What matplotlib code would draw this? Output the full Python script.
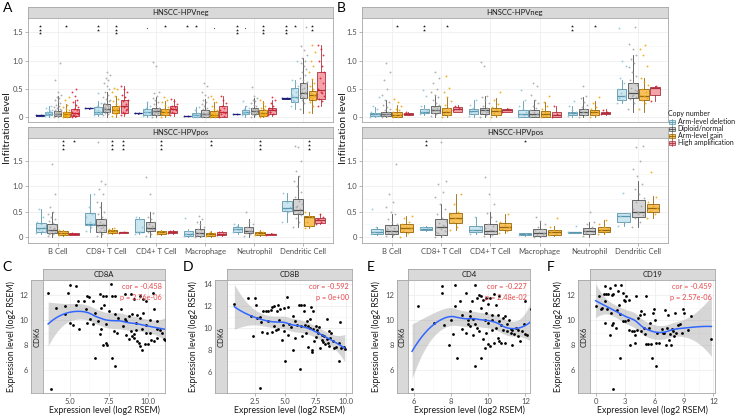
import numpy as np
import matplotlib
matplotlib.use("Agg")
import matplotlib.pyplot as plt
from matplotlib.patches import Rectangle
from matplotlib.lines import Line2D

plt.rcParams['font.family'] = ['Lato', 'DejaVu Sans']

# ---------------- data: copy-number boxplots ----------------
cells = ["B Cell", "CD8+ T Cell", "CD4+ T Cell", "Macrophage", "Neutrophil", "Dendritic Cell"]

# (lower whisker, q1, median, q3, upper whisker) for each cell type
a_neg_box = {
    "Deep deletion": [(0.02, 0.025, 0.03, 0.035, 0.04), (0.15, 0.155, 0.16, 0.165, 0.17), (0.06, 0.065, 0.07, 0.075, 0.08),
                      (0.015, 0.018, 0.02, 0.022, 0.025), (0.05, 0.052, 0.055, 0.058, 0.06), (0.32, 0.325, 0.33, 0.335, 0.34)],
    "Arm-level deletion": [(0.0, 0.03, 0.06, 0.10, 0.2), (0.02, 0.06, 0.10, 0.18, 0.28), (0.0, 0.045, 0.09, 0.14, 0.26),
                           (0.0, 0.005, 0.04, 0.08, 0.18), (0.01, 0.05, 0.09, 0.13, 0.2), (0.14, 0.26, 0.36, 0.51, 0.65)],
    "Diploid/normal": [(0.0, 0.02, 0.06, 0.11, 0.38), (0.0, 0.09, 0.14, 0.23, 0.44), (0.0, 0.045, 0.11, 0.17, 0.36),
                       (0.0, 0.01, 0.05, 0.13, 0.32), (0.0, 0.05, 0.11, 0.17, 0.34), (0.08, 0.33, 0.42, 0.61, 1.05)],
    "Arm-level gain": [(0.0, 0.01, 0.05, 0.10, 0.24), (0.0, 0.08, 0.13, 0.2, 0.38), (0.0, 0.04, 0.09, 0.14, 0.28),
                       (0.0, 0.005, 0.04, 0.11, 0.26), (0.0, 0.02, 0.07, 0.13, 0.28), (0.08, 0.3, 0.39, 0.46, 0.68)],
    "High amplification": [(0.0, 0.02, 0.07, 0.14, 0.3), (0.02, 0.08, 0.19, 0.3, 0.55), (0.02, 0.07, 0.14, 0.2, 0.32),
                           (0.0, 0.01, 0.1, 0.2, 0.38), (0.02, 0.05, 0.12, 0.16, 0.3), (0.2, 0.32, 0.48, 0.8, 1.27)],
}
a_neg_pts = {
    "Deep deletion": [[0.03, 0.035], [0.16, 0.165], [0.07, 0.075], [0.02, 0.022], [0.055, 0.06], [0.33, 0.34]],
    "Arm-level deletion": [
        [0.02, 0.04, 0.05, 0.06, 0.07, 0.08, 0.09, 0.1, 0.12, 0.14, 0.17, 0.2, 0.03, 0.05, 0.11],
        [0.04, 0.06, 0.08, 0.1, 0.12, 0.15, 0.18, 0.2, 0.25, 0.42, 0.09, 0.07],
        [0.02, 0.04, 0.06, 0.08, 0.1, 0.12, 0.14, 0.16, 0.2, 0.26, 0.09],
        [0.0, 0.02, 0.03, 0.04, 0.05, 0.06, 0.08, 0.12, 0.18, 0.01],
        [0.03, 0.05, 0.07, 0.08, 0.09, 0.1, 0.12, 0.14, 0.17, 0.2, 0.28],
        [0.2, 0.26, 0.3, 0.33, 0.36, 0.4, 0.45, 0.5, 0.55, 0.6, 0.65, 1.0, 0.28, 0.38]],
    "Diploid/normal": [
        [0.01, 0.02, 0.03, 0.04, 0.05, 0.06, 0.07, 0.08, 0.09, 0.1, 0.12, 0.14, 0.16, 0.18, 0.2, 0.22, 0.25, 0.28,
         0.3, 0.33, 0.36, 0.4, 0.45, 0.65, 0.95, 0.03, 0.05, 0.07, 0.11, 0.13],
        [0.03, 0.06, 0.08, 0.1, 0.12, 0.14, 0.16, 0.18, 0.2, 0.22, 0.25, 0.28, 0.32, 0.36, 0.4, 0.45, 0.5, 0.55,
         0.6, 0.65, 0.7, 0.75, 0.8, 0.11, 0.13, 0.15, 0.17, 0.19, 0.24, 0.3],
        [0.01, 0.03, 0.05, 0.07, 0.09, 0.11, 0.13, 0.15, 0.17, 0.2, 0.23, 0.26, 0.3, 0.34, 0.38, 0.42, 0.45, 0.9,
         0.98, 0.08, 0.1, 0.12, 0.14, 0.06],
        [0.0, 0.01, 0.02, 0.03, 0.04, 0.05, 0.06, 0.08, 0.1, 0.12, 0.14, 0.17, 0.2, 0.23, 0.27, 0.3, 0.35, 0.4,
         0.45, 0.55, 0.6, 0.03, 0.05, 0.07],
        [0.01, 0.03, 0.05, 0.07, 0.09, 0.1, 0.11, 0.12, 0.13, 0.15, 0.17, 0.19, 0.22, 0.25, 0.28, 0.31, 0.34,
         0.38, 0.53, 0.08, 0.06, 0.14],
        [0.15, 0.25, 0.3, 0.33, 0.36, 0.39, 0.42, 0.45, 0.48, 0.52, 0.56, 0.6, 0.65, 0.7, 0.75, 0.8, 0.85, 0.9,
         0.95, 1.0, 1.05, 1.1, 1.18, 1.25, 1.6, 0.35, 0.4, 0.44, 0.5, 0.62]],
    "Arm-level gain": [
        [0.0, 0.01, 0.02, 0.03, 0.04, 0.05, 0.06, 0.07, 0.08, 0.09, 0.1, 0.12, 0.15, 0.18, 0.22, 0.3, 0.35, 0.02, 0.04, 0.06],
        [0.02, 0.05, 0.08, 0.1, 0.12, 0.14, 0.16, 0.18, 0.2, 0.24, 0.28, 0.32, 0.38, 0.45, 0.5, 0.52, 0.11, 0.13],
        [0.01, 0.03, 0.05, 0.07, 0.09, 0.11, 0.13, 0.15, 0.18, 0.22, 0.26, 0.3, 0.35, 0.08, 0.1],
        [0.0, 0.01, 0.02, 0.03, 0.04, 0.05, 0.07, 0.09, 0.12, 0.15, 0.2, 0.26, 0.32, 0.38, 0.02, 0.06],
        [0.0, 0.02, 0.03, 0.05, 0.06, 0.07, 0.08, 0.1, 0.12, 0.14, 0.17, 0.2, 0.25, 0.3, 0.04],
        [0.1, 0.2, 0.26, 0.3, 0.33, 0.36, 0.39, 0.42, 0.45, 0.5, 0.55, 0.6, 0.68, 0.8, 0.9, 1.0, 1.15, 1.27, 0.35, 0.38]],
    "High amplification": [
        [0.0, 0.02, 0.03, 0.05, 0.07, 0.1, 0.12, 0.15, 0.18, 0.22, 0.27, 0.3, 0.38, 0.45, 0.5, 0.04, 0.08],
        [0.04, 0.08, 0.1, 0.14, 0.18, 0.2, 0.24, 0.28, 0.3, 0.35, 0.4, 0.45, 0.5, 0.55, 0.12],
        [0.04, 0.07, 0.1, 0.12, 0.14, 0.16, 0.18, 0.2, 0.24, 0.28, 0.32],
        [0.0, 0.02, 0.05, 0.08, 0.1, 0.13, 0.16, 0.2, 0.25, 0.3, 0.38],
        [0.03, 0.06, 0.09, 0.12, 0.14, 0.16, 0.2, 0.25, 0.3, 0.35, 0.1],
        [0.2, 0.28, 0.32, 0.38, 0.45, 0.5, 0.6, 0.7, 0.8, 0.9, 1.0, 1.1, 1.2, 1.27, 0.42]],
}
a_neg_sig = {
    "Deep deletion": ["***", "", "", "*", "***", "***"],
    "Arm-level deletion": ["", "**", ".", "*", ".", "*"],
    "Diploid/normal": ["", "", "", "", "", ""],
    "Arm-level gain": ["*", "***", "*", ".", "***", "**"],
    "High amplification": ["", "", "", "", "", ""],
}

a_pos_box = {
    "Arm-level deletion": [(0.06, 0.09, 0.17, 0.28, 0.55), (0.1, 0.23, 0.26, 0.48, 0.85), (0.05, 0.09, 0.1, 0.36, 0.4),
                           (0.0, 0.02, 0.05, 0.11, 0.15), (0.06, 0.1, 0.15, 0.2, 0.25), (0.3, 0.51, 0.57, 0.72, 0.88)],
    "Diploid/normal": [(0.0, 0.07, 0.13, 0.25, 0.5), (0.0, 0.1, 0.23, 0.36, 0.7), (0.0, 0.12, 0.17, 0.29, 0.5),
                       (0.0, 0.02, 0.08, 0.15, 0.32), (0.0, 0.07, 0.12, 0.2, 0.35), (0.2, 0.45, 0.53, 0.75, 1.2)],
    "Arm-level gain": [(0.02, 0.03, 0.07, 0.11, 0.14), (0.06, 0.08, 0.12, 0.14, 0.18), (0.03, 0.06, 0.09, 0.11, 0.14),
                       (0.0, 0.01, 0.05, 0.08, 0.12), (0.01, 0.04, 0.07, 0.1, 0.13), (0.18, 0.22, 0.4, 0.42, 0.5)],
    "High amplification": [(0.04, 0.045, 0.06, 0.07, 0.08), (0.08, 0.085, 0.09, 0.09, 0.095), (0.06, 0.08, 0.1, 0.12, 0.13),
                           (0.01, 0.03, 0.06, 0.1, 0.12), (0.03, 0.04, 0.05, 0.06, 0.07), (0.25, 0.28, 0.33, 0.38, 0.45)],
}
a_pos_pts = {
    "Arm-level deletion": [
        [0.08, 0.12, 0.16, 0.2, 0.25, 0.3, 0.4, 0.55, 0.1],
        [0.12, 0.2, 0.24, 0.26, 0.3, 0.4, 0.45, 0.6, 0.85],
        [0.06, 0.09, 0.1, 0.2, 0.35, 0.4],
        [0.01, 0.03, 0.05, 0.08, 0.12, 0.38],
        [0.1, 0.13, 0.15, 0.18, 0.22, 0.25],
        [0.3, 0.5, 0.55, 0.6, 0.7, 0.88]],
    "Diploid/normal": [
        [0.02, 0.05, 0.08, 0.1, 0.12, 0.14, 0.17, 0.2, 0.24, 0.28, 0.32, 0.36, 0.4, 0.45, 0.5, 0.6, 0.85, 1.45, 0.06, 0.15],
        [0.02, 0.06, 0.1, 0.14, 0.18, 0.22, 0.26, 0.3, 0.35, 0.4, 0.45, 0.5, 0.6, 0.7, 0.85, 0.95, 1.05, 1.1, 1.88, 0.2, 0.12],
        [0.02, 0.06, 0.1, 0.13, 0.16, 0.19, 0.22, 0.26, 0.3, 0.35, 0.4, 0.48, 0.85, 1.18, 0.15],
        [0.0, 0.02, 0.04, 0.06, 0.08, 0.1, 0.13, 0.16, 0.2, 0.25, 0.3, 0.36, 0.42, 0.05],
        [0.02, 0.05, 0.08, 0.1, 0.12, 0.14, 0.17, 0.2, 0.25, 0.3, 0.5, 0.11],
        [0.2, 0.3, 0.38, 0.44, 0.48, 0.52, 0.56, 0.6, 0.66, 0.72, 0.8, 0.9, 1.0, 1.1, 1.2, 1.3, 1.5, 1.78, 1.8, 0.5, 0.62]],
    "Arm-level gain": [
        [0.03, 0.05, 0.07, 0.09, 0.11, 0.14, 0.06],
        [0.07, 0.09, 0.11, 0.12, 0.13, 0.15, 0.18],
        [0.05, 0.07, 0.09, 0.1, 0.12],
        [0.01, 0.03, 0.05, 0.07, 0.1],
        [0.03, 0.05, 0.07, 0.09, 0.11],
        [0.18, 0.22, 0.3, 0.4, 0.42, 0.5]],
    "High amplification": [
        [0.05, 0.06, 0.07], [0.085, 0.09], [0.07, 0.1, 0.12], [0.03, 0.06, 0.1], [0.04, 0.05], [0.25, 0.3, 0.35, 0.4, 0.45]],
}
a_pos_sig = {
    "Arm-level deletion": ["", "", "", "", "", ""],
    "Diploid/normal": ["", "", "", "", "", ""],
    "Arm-level gain": ["***", "***", "***", "**", "***", "***"],
    "High amplification": ["*", "***", "", "", "", ""],
}

b_neg_box = {
    "Arm-level deletion": [(0.0, 0.02, 0.05, 0.08, 0.18), (0.04, 0.07, 0.1, 0.14, 0.22), (0.0, 0.05, 0.11, 0.15, 0.3),
                           (0.0, 0.0, 0.05, 0.12, 0.28), (0.0, 0.04, 0.07, 0.1, 0.2), (0.25, 0.3, 0.37, 0.5, 0.65)],
    "Diploid/normal": [(0.0, 0.02, 0.06, 0.1, 0.3), (0.0, 0.07, 0.13, 0.2, 0.4), (0.0, 0.05, 0.12, 0.16, 0.38),
                       (0.0, 0.01, 0.05, 0.12, 0.3), (0.0, 0.04, 0.09, 0.15, 0.35), (0.1, 0.33, 0.42, 0.6, 1.1)],
    "Arm-level gain": [(0.0, 0.0, 0.04, 0.09, 0.22), (0.0, 0.03, 0.1, 0.16, 0.35), (0.0, 0.04, 0.11, 0.16, 0.34),
                       (0.0, 0.0, 0.05, 0.11, 0.26), (0.0, 0.04, 0.09, 0.13, 0.28), (0.1, 0.3, 0.37, 0.5, 0.7)],
    "High amplification": [(0.04, 0.045, 0.06, 0.075, 0.09), (0.1, 0.1, 0.14, 0.18, 0.22), (0.09, 0.1, 0.12, 0.14, 0.16),
                           (0.0, 0.0, 0.03, 0.1, 0.2), (0.04, 0.05, 0.08, 0.1, 0.14), (0.28, 0.4, 0.52, 0.54, 0.55)],
}
b_neg_pts = {
    "Arm-level deletion": [
        [0.0, 0.02, 0.04, 0.06, 0.08, 0.1, 0.14, 0.2, 0.35],
        [0.05, 0.08, 0.1, 0.12, 0.15, 0.2, 0.38, 0.48],
        [0.02, 0.06, 0.1, 0.13, 0.16, 0.22, 0.3],
        [0.0, 0.03, 0.06, 0.1, 0.15, 0.2, 0.3, 0.48],
        [0.02, 0.05, 0.07, 0.09, 0.12, 0.2, 0.28],
        [0.25, 0.3, 0.33, 0.37, 0.42, 0.5, 0.6, 0.7, 0.9, 1.0, 1.57]],
    "Diploid/normal": [
        [0.0, 0.02, 0.03, 0.05, 0.06, 0.08, 0.1, 0.12, 0.15, 0.18, 0.22, 0.26, 0.3, 0.4, 0.5, 0.65, 0.8, 0.95, 0.04, 0.07],
        [0.02, 0.05, 0.08, 0.1, 0.12, 0.14, 0.16, 0.18, 0.21, 0.25, 0.3, 0.35, 0.4, 0.45, 0.5, 0.6, 0.7, 0.8, 0.11, 0.13],
        [0.01, 0.04, 0.07, 0.1, 0.12, 0.14, 0.17, 0.2, 0.25, 0.3, 0.35, 0.38, 0.9, 0.98, 0.09],
        [0.0, 0.02, 0.04, 0.06, 0.09, 0.12, 0.16, 0.2, 0.25, 0.3, 0.4, 0.55, 0.6],
        [0.0, 0.03, 0.06, 0.08, 0.1, 0.12, 0.15, 0.18, 0.22, 0.27, 0.33, 0.38, 0.55],
        [0.15, 0.25, 0.32, 0.36, 0.4, 0.44, 0.48, 0.52, 0.56, 0.6, 0.66, 0.72, 0.8, 0.88, 0.95, 1.02, 1.1, 1.2, 1.3, 1.6, 0.38, 0.46]],
    "Arm-level gain": [
        [0.0, 0.01, 0.03, 0.05, 0.07, 0.09, 0.12, 0.15, 0.2, 0.26, 0.32, 0.04],
        [0.0, 0.03, 0.06, 0.09, 0.11, 0.14, 0.17, 0.22, 0.28, 0.35, 0.45, 0.52, 0.72],
        [0.01, 0.04, 0.08, 0.11, 0.14, 0.18, 0.24, 0.3, 0.45],
        [0.0, 0.02, 0.04, 0.07, 0.1, 0.14, 0.2, 0.26, 0.38],
        [0.01, 0.04, 0.07, 0.09, 0.11, 0.14, 0.18, 0.25, 0.35],
        [0.15, 0.25, 0.3, 0.34, 0.37, 0.4, 0.45, 0.5, 0.56, 0.62, 0.7, 0.9, 1.1, 1.2, 1.27]],
    "High amplification": [
        [0.05, 0.06, 0.09], [0.12, 0.16, 0.2], [0.1, 0.14], [0.0, 0.05, 0.2], [0.05, 0.09, 0.13], [0.28, 0.55]],
}
b_neg_sig = {
    "Arm-level deletion": ["", "**", "", "", "**", ""],
    "Diploid/normal": ["", "", "", "", "", ""],
    "Arm-level gain": ["*", "*", "", "", "*", ""],
    "High amplification": ["", "", "", "", "", ""],
}

b_pos_box = {
    "Arm-level deletion": [(0.04, 0.06, 0.09, 0.16, 0.2), (0.12, 0.14, 0.16, 0.19, 0.22), (0.05, 0.09, 0.13, 0.22, 0.4),
                           (0.02, 0.03, 0.05, 0.07, 0.08), (0.08, 0.085, 0.09, 0.09, 0.1), (0.22, 0.3, 0.42, 0.47, 0.48)],
    "Diploid/normal": [(0.0, 0.06, 0.11, 0.23, 0.45), (0.0, 0.03, 0.2, 0.35, 0.65), (0.0, 0.06, 0.12, 0.26, 0.5),
                       (0.0, 0.01, 0.07, 0.15, 0.32), (0.0, 0.06, 0.12, 0.18, 0.3), (0.2, 0.4, 0.49, 0.74, 1.1)],
    "Arm-level gain": [(0.02, 0.1, 0.17, 0.26, 0.42), (0.13, 0.28, 0.37, 0.47, 0.85), (0.08, 0.13, 0.2, 0.27, 0.45),
                       (0.02, 0.04, 0.1, 0.13, 0.22), (0.05, 0.1, 0.14, 0.2, 0.34), (0.38, 0.5, 0.57, 0.66, 0.82)],
}
b_pos_pts = {
    "Arm-level deletion": [
        [0.06, 0.08, 0.1, 0.14, 0.2, 0.55], [0.15, 0.17, 0.2], [0.06, 0.1, 0.14, 0.2, 0.4],
        [0.04, 0.06], [0.09, 0.22], [0.22, 0.3, 0.42, 0.47, 0.88]],
    "Diploid/normal": [
        [0.01, 0.04, 0.07, 0.1, 0.12, 0.15, 0.18, 0.22, 0.26, 0.3, 0.35, 0.45, 0.5, 0.6, 0.7, 0.85, 1.45, 0.08],
        [0.0, 0.03, 0.08, 0.12, 0.16, 0.2, 0.24, 0.28, 0.32, 0.38, 0.45, 0.55, 0.65, 0.8, 0.9, 1.05, 1.1, 1.88, 0.1, 0.22],
        [0.01, 0.04, 0.08, 0.11, 0.14, 0.18, 0.22, 0.26, 0.32, 0.4, 0.48, 0.65, 0.85, 1.18, 0.13],
        [0.0, 0.02, 0.04, 0.07, 0.1, 0.13, 0.16, 0.2, 0.25, 0.32, 0.4, 0.06],
        [0.02, 0.05, 0.08, 0.1, 0.13, 0.16, 0.2, 0.26, 0.3, 0.5, 0.12],
        [0.2, 0.3, 0.38, 0.44, 0.5, 0.56, 0.62, 0.7, 0.78, 0.86, 0.95, 1.05, 1.2, 1.35, 1.5, 1.78, 1.8, 0.45]],
    "Arm-level gain": [
        [0.0, 0.08, 0.12, 0.17, 0.2, 0.25, 0.3, 0.38, 0.42],
        [0.13, 0.2, 0.3, 0.35, 0.38, 0.45, 0.5, 0.65, 0.85],
        [0.08, 0.12, 0.16, 0.2, 0.24, 0.3, 0.45],
        [0.03, 0.06, 0.09, 0.11, 0.14, 0.2, 0.38],
        [0.06, 0.1, 0.13, 0.16, 0.2, 0.26, 0.34],
        [0.38, 0.45, 0.52, 0.57, 0.62, 0.7, 0.8, 1.28]],
}
b_pos_sig = {
    "Arm-level deletion": ["", "**", "", "*", "", ""],
    "Diploid/normal": ["", "", "", "", "", ""],
    "Arm-level gain": ["", "", "", "", "", ""],
}

# ---------------- data: CDK6 vs marker genes ----------------
c_pts = [(3.6, 12.2), (5.0, 12.8), (5.4, 12.75), (7.6, 12.85), (6.9, 12.1), (7.1, 11.9), (7.3, 11.9), (7.7, 11.9),
         (7.9, 11.9), (6.1, 11.9), (6.2, 11.85), (8.5, 12.1), (8.9, 12.1), (9.1, 11.65), (9.5, 11.95), (9.7, 11.7),
         (9.9, 11.5), (10.3, 12.15), (5.9, 11.55), (5.5, 11.5), (6.5, 11.5), (7.2, 11.2), (4.9, 12.2), (4.1, 10.95),
         (4.7, 11.1), (5.4, 11.2), (6.0, 10.9), (6.6, 10.6), (7.0, 11.0), (7.5, 10.7), (7.9, 10.5), (8.3, 10.9),
         (8.5, 10.1), (8.8, 10.3), (9.0, 10.5), (9.3, 10.4), (9.5, 10.2), (9.7, 10.6), (10.1, 10.0), (10.4, 10.85),
         (11.4, 10.5), (4.7, 10.5), (6.8, 9.9), (7.3, 9.7), (8.1, 10.2), (8.6, 9.9), (9.2, 9.8), (9.9, 9.6),
         (10.6, 9.9), (11.6, 9.1), (5.0, 9.8), (5.2, 9.6), (5.6, 9.3), (6.1, 9.8), (6.5, 9.7), (7.0, 9.3),
         (6.9, 8.9), (7.3, 8.2), (7.4, 8.0), (7.1, 8.0), (7.8, 9.1), (8.0, 9.0), (8.6, 8.8), (8.9, 9.1), (9.1, 8.9),
         (9.1, 8.6), (9.3, 8.3), (9.4, 8.2), (9.6, 7.6), (9.5, 7.9), (9.8, 8.1), (10.0, 8.1), (10.2, 8.4),
         (10.4, 8.3), (10.6, 8.6), (10.8, 9.2), (11.0, 8.5), (11.1, 8.4), (11.3, 9.0), (10.6, 9.3), (9.9, 9.0),
         (9.0, 8.7), (8.8, 8.5), (6.6, 7.0), (7.7, 7.0), (7.9, 6.3), (3.8, 4.5), (9.2, 9.2), (9.6, 9.3),
         (10.1, 9.0), (10.9, 9.0), (8.4, 9.5), (6.3, 10.1)]
d_pts = [(0.8, 12.2), (1.9, 12.7), (2.5, 12.75), (2.6, 12.1), (2.2, 11.1), (2.7, 10.9), (2.9, 11.0), (3.2, 11.5),
         (3.4, 11.5), (3.6, 11.5), (3.8, 11.6), (3.9, 11.9), (4.1, 12.0), (4.4, 12.1), (4.6, 11.7), (4.3, 11.5),
         (4.9, 11.85), (5.2, 11.9), (5.1, 12.8), (5.6, 11.1), (6.1, 12.1), (6.3, 12.1), (6.5, 12.1), (6.5, 11.5),
         (7.1, 11.9), (7.3, 11.5), (7.5, 10.2), (7.8, 10.1), (8.4, 10.8), (8.6, 9.7), (9.5, 10.5), (3.0, 10.5),
         (3.6, 10.6), (4.5, 10.7), (4.8, 10.3), (5.3, 10.4), (5.8, 10.6), (6.0, 10.3), (6.3, 10.2), (6.6, 10.3),
         (6.9, 10.2), (7.0, 10.0), (7.3, 9.9), (7.7, 9.5), (7.6, 9.8), (8.0, 9.4), (8.2, 9.3), (8.4, 9.0),
         (8.7, 9.1), (8.9, 8.8), (9.2, 8.3), (9.4, 8.6), (9.6, 8.2), (9.9, 8.1), (8.1, 8.7), (8.3, 8.5), (8.6, 8.4),
         (8.0, 8.9), (7.4, 8.8), (7.2, 8.0), (7.2, 7.8), (6.9, 8.3), (6.4, 9.3), (5.8, 9.1), (5.2, 9.4), (4.9, 9.7),
         (4.4, 9.9), (4.2, 9.8), (3.9, 9.6), (3.1, 9.6), (2.3, 9.3), (4.7, 8.9), (5.6, 8.0), (5.0, 7.0), (6.2, 6.3),
         (2.9, 4.5), (9.4, 7.0), (7.9, 8.2), (8.5, 8.6), (9.0, 8.2), (6.7, 9.5), (7.5, 9.2), (3.5, 9.5), (4.1, 10.2),
         (5.5, 10.1), (6.8, 10.6), (8.8, 9.5), (9.8, 8.3), (7.0, 10.8)]
e_pts = [(5.9, 4.5), (6.2, 11.1), (7.1, 9.8), (7.5, 12.7), (7.5, 12.15), (7.6, 9.6), (7.9, 8.0), (8.0, 10.0),
         (8.1, 8.9), (8.2, 11.1), (8.2, 12.8), (8.3, 7.0), (8.5, 11.5), (8.6, 9.3), (8.6, 10.4), (8.8, 12.2),
         (8.9, 9.7), (9.0, 10.7), (9.0, 10.3), (9.1, 11.5), (9.2, 8.8), (9.3, 9.7), (9.3, 12.8), (9.3, 6.3),
         (9.4, 11.8), (9.5, 12.0), (9.5, 9.1), (9.6, 11.9), (9.6, 11.0), (9.6, 7.0), (9.7, 11.6), (9.7, 8.5),
         (9.8, 7.8), (9.8, 10.0), (9.9, 11.8), (9.9, 9.0), (10.0, 11.3), (10.0, 8.1), (10.1, 11.8), (10.2, 10.4),
         (10.2, 10.0), (10.3, 12.1), (10.3, 8.2), (10.4, 11.2), (10.4, 9.4), (10.5, 10.4), (10.5, 8.6), (10.6, 11.9),
         (10.6, 8.3), (10.7, 9.6), (10.7, 8.2), (10.8, 10.2), (10.8, 9.2), (10.9, 10.3), (10.9, 8.2), (11.0, 9.7),
         (11.0, 9.1), (11.1, 10.0), (11.2, 9.0), (11.3, 9.2), (11.3, 8.0), (11.5, 9.4), (11.6, 9.2), (11.7, 8.3),
         (11.8, 9.1), (11.9, 9.7), (12.0, 8.9), (12.1, 8.8), (12.0, 11.5), (12.3, 10.9), (10.1, 7.9), (9.4, 9.4),
         (8.8, 9.0), (10.6, 9.9), (11.4, 8.9), (9.0, 9.5), (11.2, 9.3), (9.9, 10.6), (10.0, 9.8), (9.2, 10.1),
         (11.6, 8.7), (8.9, 10.0), (10.2, 9.2)]
f_pts = [(0.0, 11.1), (0.3, 11.9), (0.6, 11.0), (0.8, 12.1), (0.9, 12.7), (1.0, 11.5), (1.1, 12.1), (1.3, 12.1),
         (1.5, 12.6), (1.7, 12.0), (1.8, 12.1), (2.0, 12.8), (2.3, 12.3), (2.6, 12.8), (2.8, 12.2), (2.9, 11.6),
         (3.0, 11.5), (3.4, 11.6), (3.1, 11.9), (4.1, 11.9), (5.1, 11.9), (1.2, 10.9), (1.6, 10.6), (2.2, 10.8),
         (2.5, 10.5), (1.0, 9.8), (1.7, 9.6), (1.8, 9.8), (1.5, 8.8), (2.1, 9.4), (2.8, 9.9), (3.0, 9.9), (3.4, 9.2),
         (3.7, 9.1), (3.9, 9.1), (4.0, 8.8), (3.5, 8.0), (4.0, 8.2), (4.2, 9.2), (4.3, 10.2), (4.5, 10.4),
         (4.6, 10.7), (4.9, 10.5), (4.6, 9.1), (4.9, 9.4), (5.0, 8.9), (5.1, 8.1), (5.3, 8.1), (5.5, 9.8), (5.6, 8.1),
         (5.8, 10.6), (5.9, 10.9), (5.7, 7.0), (6.1, 10.0), (6.3, 9.0), (6.2, 8.2), (6.2, 6.3), (6.5, 8.2),
         (6.8, 9.3), (7.0, 9.0), (7.1, 10.8), (7.2, 8.0), (7.3, 9.4), (7.4, 10.4), (7.5, 8.4), (7.6, 8.9),
         (7.7, 8.0), (7.8, 9.3), (8.0, 8.7), (8.1, 10.6), (8.2, 9.0), (8.4, 9.6), (8.6, 9.7), (8.8, 9.0),
         (8.9, 10.9), (9.0, 10.6), (9.4, 9.2), (9.7, 10.3), (11.8, 8.5), (2.5, 7.0), (1.8, 4.5), (6.9, 9.0),
         (7.9, 9.1), (5.4, 9.4), (3.3, 10.0), (2.4, 11.2), (0.5, 10.9)]
genes = ["CD8A", "CD8B", "CD4", "CD19"]
cor_txt = ["cor = -0.458", "cor = -0.592", "cor = -0.227", "cor = -0.459"]
p_txt = ["p = 2.76e-06", "p = 0e+00", "p = 2.48e-02", "p = 2.57e-06"]

# ---------------- style ----------------
W, H = 735, 420
STRIP = "#D9D9D9"
BORDER = "#A6A6A6"
STYLE = {  # fill, edge, point
    "Deep deletion": ("#2E2E9A", "#1C1C7A", "#1C1C7A"),
    "Arm-level deletion": ("#CBE6EF", "#5B95AC", "#8EC3D8"),
    "Diploid/normal": ("#D4D4D4", "#505050", "#A3A3A3"),
    "Arm-level gain": ("#F6C15E", "#94650A", "#EFA300"),
    "High amplification": ("#F5A3AA", "#A8323E", "#E3142B"),
}

fig = plt.figure(figsize=(W / 100, H / 100), dpi=100)


def px_axes(x0, y0, x1, y1):
    return fig.add_axes([x0 / W, 1 - y1 / H, (x1 - x0) / W, (y1 - y0) / H])


def strip(x0, y0, x1, y1, text, rot=0):
    ax = px_axes(x0, y0, x1, y1)
    ax.set_facecolor(STRIP)
    ax.set_xticks([])
    ax.set_yticks([])
    for s in ax.spines.values():
        s.set_color(BORDER)
        s.set_linewidth(0.6)
    ax.text(0.5, 0.5, text, ha='center', va='center', rotation=rot, fontsize=5.5,
            color='#1A1A1A', transform=ax.transAxes)


def box_panel(rect, title, box, pts, sig, ylim, sig_top, sig_step, show_x):
    x0, y0, x1, y1 = rect
    strip(x0, y0 - 11, x1, y0, title)
    ax = px_axes(x0, y0, x1, y1)
    lv = list(box.keys())
    n = len(lv)
    step = 0.9 / n
    bw = step * 0.85
    for j, name in enumerate(lv):
        off = (j - (n - 1) / 2) * step
        fc, ec, pc = STYLE[name]
        stats = [dict(whislo=s[0], q1=s[1], med=s[2], q3=s[3], whishi=s[4], fliers=[]) for s in box[name]]
        pos = np.arange(len(cells)) + off
        ax.bxp(stats, positions=pos, widths=bw, patch_artist=True, showcaps=False, showfliers=False,
               boxprops=dict(facecolor=fc, edgecolor=ec, linewidth=0.6),
               medianprops=dict(color=ec, linewidth=0.9),
               whiskerprops=dict(color=ec, linewidth=0.6), manage_ticks=False, zorder=2)
        for i, vals in enumerate(pts[name]):
            v = np.array(vals)
            jit = ((np.arange(len(v)) * 0.618034) % 1 - 0.5) * bw * 0.95
            ax.scatter(pos[i] + jit, v, s=1.8, color=pc, alpha=0.85, linewidths=0, zorder=3)
        for i, mark in enumerate(sig[name]):
            if mark == ".":
                ax.scatter([pos[i]], [sig_top - sig_step * 0.6], s=0.8, color='#555555', linewidths=0, zorder=4)
            elif mark:
                k = len(mark)
                ax.scatter([pos[i]] * k, sig_top - np.arange(k) * sig_step, marker='*', s=5,
                           color='#222222', linewidths=0, zorder=4)
    ax.set_xlim(-0.6, len(cells) - 0.4)
    ax.set_ylim(*ylim)
    ax.set_yticks([0, 0.5, 1.0, 1.5])
    ax.set_yticklabels(["0", "0.5", "1.0", "1.5"])
    ax.set_yticks([0.25, 0.75, 1.25, 1.75], minor=True)
    ax.set_xticks(np.arange(len(cells)))
    ax.set_xticklabels(cells if show_x else [])
    ax.grid(which='major', color='#EBEBEB', lw=0.5, zorder=0)
    ax.grid(which='minor', axis='y', color='#F4F4F4', lw=0.4, zorder=0)
    ax.set_axisbelow(True)
    ax.tick_params(which='major', labelsize=5.5, length=2, width=0.5, color='#999999',
                   labelcolor='#4D4D4D', pad=1.5)
    ax.tick_params(which='minor', length=0)
    if not show_x:
        ax.tick_params(axis='x', length=0)
    for s in ax.spines.values():
        s.set_color(BORDER)
        s.set_linewidth(0.6)
    return ax


def loess(x, y, grid, span=0.75):
    n = len(x)
    k = int(np.ceil(span * n))

    def rows(pts):
        out = []
        for g in pts:
            d = np.abs(x - g)
            h = np.sort(d)[k - 1]
            w = np.clip(1 - (d / h) ** 3, 0, None) ** 3
            X = np.column_stack([np.ones(n), x - g, (x - g) ** 2])
            XtW = X.T * w
            out.append(np.linalg.solve(XtW @ X, XtW)[0])
        return np.array(out)

    Ld = rows(x)
    res = y - Ld @ y
    M = np.eye(n) - Ld
    sigma = np.sqrt(res @ res / np.trace(M.T @ M))
    Lg = rows(grid)
    fit = Lg @ y
    se = sigma * np.sqrt((Lg ** 2).sum(axis=1))
    return fit, se


def scatter_panel(rect, sx0, gene, pts, ctxt, ptxt, xlim, ylim, xticks, xtl, yticks, ylab_x):
    x0, y0, x1, y1 = rect
    strip(x0, y0 - 11, x1, y0, gene)
    strip(sx0, y0, x0, y1, "CDK6", rot=90)
    ax = px_axes(x0, y0, x1, y1)
    p = np.array(pts)
    grid = np.linspace(p[:, 0].min(), p[:, 0].max(), 80)
    fit, se = loess(p[:, 0], p[:, 1], grid)
    ax.fill_between(grid, fit - 1.98 * se, fit + 1.98 * se, color='#999999', alpha=0.4, lw=0, zorder=2)
    ax.scatter(p[:, 0], p[:, 1], s=4, color='black', linewidths=0, zorder=3)
    ax.plot(grid, fit, color='#3366FF', lw=1.1, zorder=4)
    ax.set_xlim(*xlim)
    ax.set_ylim(*ylim)
    ax.set_xticks(xticks)
    ax.set_xticklabels(xtl)
    ax.set_yticks(yticks)
    ax.set_yticklabels([str(v) for v in yticks])
    mx = [(a + b) / 2 for a, b in zip(xticks[:-1], xticks[1:])]
    my = [(a + b) / 2 for a, b in zip(yticks[:-1], yticks[1:])]
    ax.set_xticks(mx, minor=True)
    ax.set_yticks(my, minor=True)
    ax.grid(which='major', color='#EBEBEB', lw=0.5)
    ax.grid(which='minor', color='#F5F5F5', lw=0.4)
    ax.set_axisbelow(True)
    strip_w = (x0 - sx0) * 72 / 100
    ax.tick_params(axis='y', which='major', length=0, pad=strip_w + 2, labelsize=5.5, labelcolor='#4D4D4D')
    ax.tick_params(axis='x', which='major', length=2, width=0.5, color='#999999', pad=1.5,
                   labelsize=5.5, labelcolor='#4D4D4D')
    ax.tick_params(which='minor', length=0)
    for s in ax.spines.values():
        s.set_color(BORDER)
        s.set_linewidth(0.6)
    ax.text(0.975, 0.94, ctxt, transform=ax.transAxes, ha='right', va='center', fontsize=5.3, color='#E8474C')
    ax.text(0.975, 0.845, ptxt, transform=ax.transAxes, ha='right', va='center', fontsize=5.3, color='#E8474C')
    fig.text(ylab_x / W, 1 - (y0 + y1) / 2 / H, "Expression level (log2 RSEM)", rotation=90,
             ha='center', va='center', fontsize=6.3, color='#1A1A1A')
    fig.text((x0 + x1) / 2 / W, 1 - 410 / H, "Expression level (log2 RSEM)",
             ha='center', va='center', fontsize=6.3, color='#1A1A1A')


# ---------------- panels A and B ----------------
box_panel((28, 18, 333, 122), "HNSCC-HPVneg", a_neg_box, a_neg_pts, a_neg_sig, (-0.085, 1.70), 1.61, 0.065, False)
box_panel((28, 138, 333, 243), "HNSCC-HPVpos", a_pos_box, a_pos_pts, a_pos_sig, (-0.12, 1.96), 1.90, 0.075, True)
box_panel((362, 18, 668, 122), "HNSCC-HPVneg", b_neg_box, b_neg_pts, b_neg_sig, (-0.085, 1.70), 1.61, 0.065, False)
box_panel((362, 138, 668, 243), "HNSCC-HPVpos", b_pos_box, b_pos_pts, b_pos_sig, (-0.12, 1.96), 1.90, 0.075, True)

fig.text(8 / W, 1 - 128 / H, "Infiltration level", rotation=90, ha='center', va='center', fontsize=7.5, color='#1A1A1A')
fig.text(343 / W, 1 - 128 / H, "Infiltration level", rotation=90, ha='center', va='center', fontsize=7.5, color='#1A1A1A')

# legend
fig.text(668 / W, 1 - 114 / H, "Copy number", ha='left', va='center', fontsize=5, color='#1A1A1A')
for k, name in enumerate(["Arm-level deletion", "Diploid/normal", "Arm-level gain", "High amplification"]):
    yc = 121.5 + k * 7
    fc, ec, pc = STYLE[name]
    fig.patches.append(Rectangle((669 / W, 1 - (yc + 2) / H), 6 / W, 4 / H, facecolor=fc, edgecolor=ec,
                                 lw=0.5, transform=fig.transFigure, figure=fig))
    fig.lines.append(Line2D([669 / W, 675 / W], [1 - yc / H, 1 - yc / H], color=ec, lw=0.6,
                            transform=fig.transFigure, figure=fig))
    fig.lines.append(Line2D([672 / W, 672 / W], [1 - (yc - 3) / H, 1 - (yc + 3) / H], color=ec, lw=0.5,
                            transform=fig.transFigure, figure=fig))
    fig.text(677.5 / W, 1 - yc / H, name, ha='left', va='center', fontsize=5, color='#1A1A1A')

# ---------------- panels C-F ----------------
scatter_panel((43, 280, 165, 393), 31, genes[0], c_pts, cor_txt[0], p_txt[0], (3.27, 11.09), (4.16, 13.2),
              [5.0, 7.5, 10.0], ["5.0", "7.5", "10.0"], [6, 8, 10, 12], 11)
scatter_panel((227, 280, 352, 393), 215, genes[1], d_pts, cor_txt[1], p_txt[1], (0.19, 10.5), (4.09, 14.36),
              [2.5, 5.0, 7.5, 10.0], ["2.5", "5.0", "7.5", "10.0"], [6, 8, 10, 12, 14], 193)
scatter_panel((408, 280, 530, 393), 397, genes[2], e_pts, cor_txt[2], p_txt[2], (5.68, 12.25), (4.16, 13.2),
              [6, 8, 10, 12], ["6", "8", "10", "12"], [6, 8, 10, 12], 376)
scatter_panel((590, 280, 715, 393), 578, genes[3], f_pts, cor_txt[3], p_txt[3], (-0.58, 12.17), (4.16, 13.2),
              [0, 3, 6, 9, 12], ["0", "3", "6", "9", "12"], [6, 8, 10, 12], 558)

for lab, x, y in [("A", 3, 8), ("B", 337, 8), ("C", 2, 267), ("D", 183, 267), ("E", 367, 267), ("F", 547, 267)]:
    fig.text(x / W, 1 - y / H, lab, ha='left', va='center', fontsize=10, color='black')

fig.savefig("out.png", dpi=100)
